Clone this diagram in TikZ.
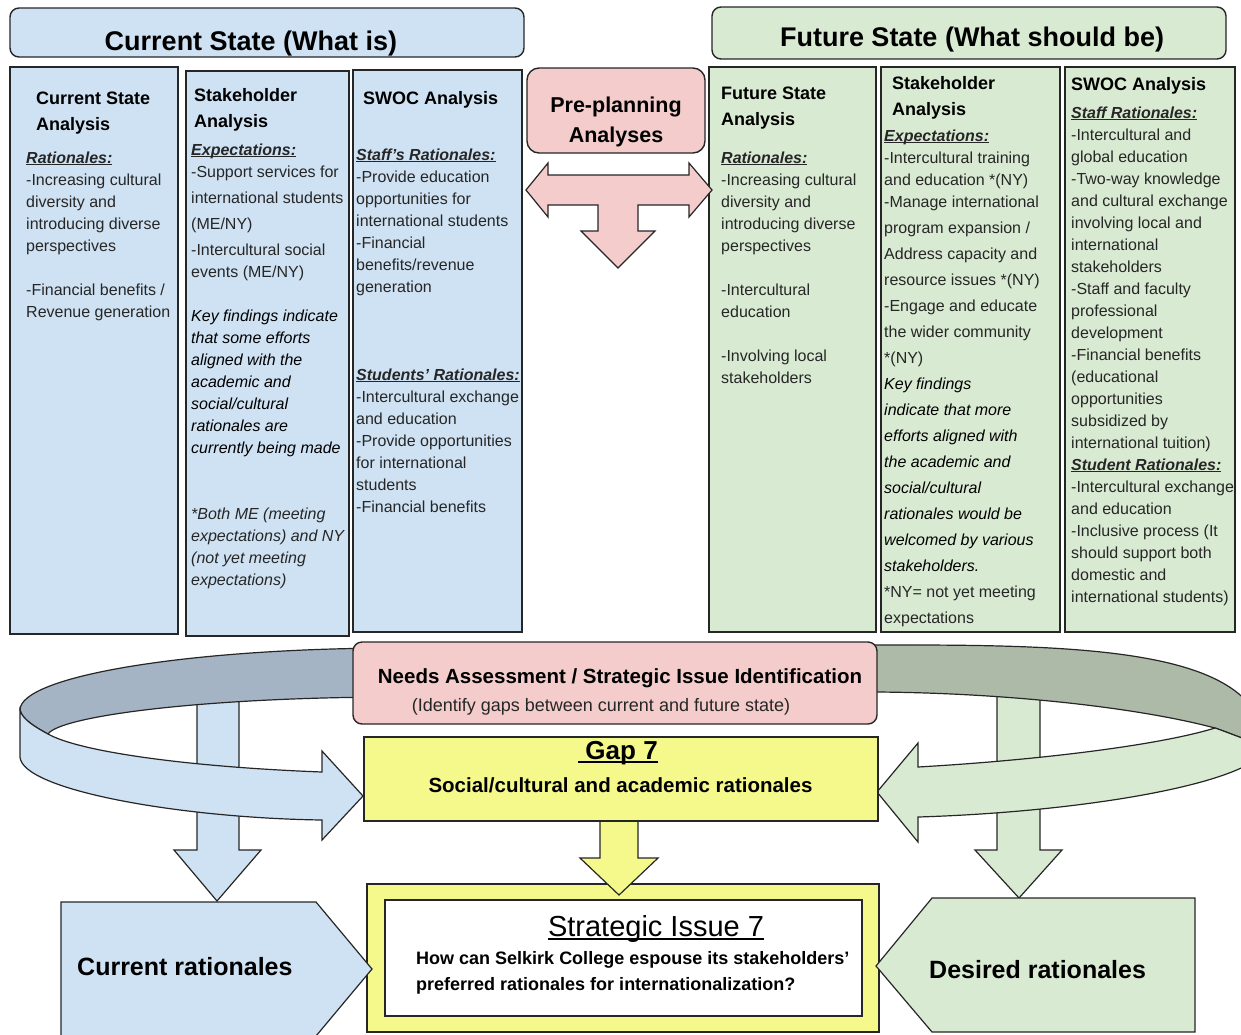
\documentclass[tikz,border=0pt]{standalone}
\usepackage{fontspec}
\setmainfont{Liberation Sans}
\usetikzlibrary{positioning, calc}

\definecolor{curblue}{HTML}{CFE2F3}
\definecolor{futgreen}{HTML}{D9EAD3}
\definecolor{prepink}{HTML}{F4CCCC}
\definecolor{gapyellow}{HTML}{F5F98B}
\definecolor{bandblue}{HTML}{A4B4C4}
\definecolor{bandgreen}{HTML}{AEBAA8}

\newcommand{\undl}[1]{\setbox0\hbox{#1}\rlap{\rule[-0.15em]{\wd0}{0.07em}}\box0}

\begin{document}
\begin{tikzpicture}[x=1pt, y=-1pt,
    panel/.style={draw=black!85, line width=1.4pt, inner sep=0pt},
    roundpanel/.style={panel, rounded corners=9pt},
    blockarrow/.style={draw=black!85, line width=1.2pt, line join=miter},
    bodytext/.style={anchor=base west, inner sep=0pt, text=black!85, font=\fontsize{16}{22}\selectfont},
    headtext/.style={anchor=base west, inner sep=0pt, font=\bfseries\fontsize{18}{26}\selectfont},
    bigtext/.style={anchor=base, inner sep=0pt, font=\bfseries\fontsize{27}{32}\selectfont}]

    \useasboundingbox (0,0) rectangle (1241,1034);

    % State headers
    \node[roundpanel, fill=curblue, minimum width=514pt, minimum height=49pt] (curhead) at (267,32.5) {};
    \node[bigtext] (curtitle) at (251,50) {Current State (What is)};
    \node[roundpanel, fill=futgreen, minimum width=514pt, minimum height=52pt] (futhead) at (969,33) {};
    \node[bigtext] (futtitle) at (972,46) {Future State (What should be)};

    % Current state columns
    \node[panel, fill=curblue, minimum width=168pt, minimum height=567pt] (curana) at (94,350.5) {};
    \node[panel, fill=curblue, minimum width=163pt, minimum height=565pt] (curstake) at (267.5,353.5) {};
    \node[panel, fill=curblue, minimum width=169pt, minimum height=562pt] (curswoc) at (437.5,351) {};

    \node[headtext] (curanahead) at (36,104) {\begin{tabular}[t]{@{}l@{}}Current State\\Analysis\end{tabular}};
    \node[bodytext] (curanatxt) at (26,163) {\begin{tabular}[t]{@{}l@{}}
    \textbf{\textit{\undl{Rationales:}}}\\
    -Increasing cultural\\
    diversity and\\
    introducing diverse\\
    perspectives\\
    \\
    -Financial benefits /\\
    Revenue generation
    \end{tabular}};

    \node[headtext] (curstakehead) at (194,101) {\begin{tabular}[t]{@{}l@{}}Stakeholder\\Analysis\end{tabular}};
    \node[bodytext] (curstaketxt) at (191,155) {\begin{tabular}[t]{@{}l@{}}
    \textbf{\textit{\undl{Expectations:}}}\\
    -Support services for\\[4pt]
    international students\\[4pt]
    (ME/NY)\\[4pt]
    -Intercultural social\\
    events (ME/NY)\\
    \\
    \textcolor{black}{\textit{Key findings indicate}}\\
    \textcolor{black}{\textit{that some efforts}}\\
    \textcolor{black}{\textit{aligned with the}}\\
    \textcolor{black}{\textit{academic and}}\\
    \textcolor{black}{\textit{social/cultural}}\\
    \textcolor{black}{\textit{rationales are}}\\
    \textcolor{black}{\textit{currently being made}}\\
    \\
    \\
    \textit{{*}Both ME (meeting}\\
    \textit{expectations) and NY}\\
    \textit{(not yet meeting}\\
    \textit{expectations)}
    \end{tabular}};

    \node[headtext] (curswochead) at (363,104) {SWOC Analysis};
    \node[bodytext] (curswoctxt) at (356,160) {\begin{tabular}[t]{@{}l@{}}
    \textbf{\textit{\undl{Staff's Rationales:}}}\\
    -Provide education\\
    opportunities for\\
    international students\\
    -Financial\\
    benefits/revenue\\
    generation\\
    \\
    \\
    \\
    \textbf{\textit{\undl{Students' Rationales:}}}\\
    -Intercultural exchange\\
    and education\\
    -Provide opportunities\\
    for international\\
    students\\
    -Financial benefits
    \end{tabular}};

    % Future state columns
    \node[panel, fill=futgreen, minimum width=167pt, minimum height=565pt] (futana) at (792.5,349.5) {};
    \node[panel, fill=futgreen, minimum width=179pt, minimum height=565pt] (futstake) at (970.5,349.5) {};
    \node[panel, fill=futgreen, minimum width=170pt, minimum height=565pt] (futswoc) at (1150,349.5) {};

    \node[headtext] (futanahead) at (721,99) {\begin{tabular}[t]{@{}l@{}}Future State\\Analysis\end{tabular}};
    \node[bodytext] (futanatxt) at (721,163) {\begin{tabular}[t]{@{}l@{}}
    \textbf{\textit{\undl{Rationales:}}}\\
    -Increasing cultural\\
    diversity and\\
    introducing diverse\\
    perspectives\\
    \\
    -Intercultural\\
    education\\
    \\
    -Involving local\\
    stakeholders
    \end{tabular}};

    \node[headtext] (futstakehead) at (892,89) {\begin{tabular}[t]{@{}l@{}}Stakeholder\\Analysis\end{tabular}};
    \node[bodytext] (futstaketxt) at (884,141) {\begin{tabular}[t]{@{}l@{}}
    \textbf{\textit{\undl{Expectations:}}}\\
    -Intercultural training\\
    and education *(NY)\\
    -Manage international
    \end{tabular}};
    \node[bodytext, font=\fontsize{16}{26}\selectfont] (futstakemore) at (884,233) {\begin{tabular}[t]{@{}l@{}}
    program expansion /\\
    Address capacity and\\
    resource issues *(NY)\\
    -Engage and educate\\
    the wider community\\
    {*}(NY)\\
    \textcolor{black}{\textit{Key findings}}\\
    \textcolor{black}{\textit{indicate that more}}\\
    \textcolor{black}{\textit{efforts aligned with}}\\
    \textcolor{black}{\textit{the academic and}}\\
    \textcolor{black}{\textit{social/cultural}}\\
    \textcolor{black}{\textit{rationales would be}}\\
    \textcolor{black}{\textit{welcomed by various}}\\
    \textcolor{black}{\textit{stakeholders.}}\\
    {*}NY= not yet meeting\\
    expectations
    \end{tabular}};

    \node[headtext] (futswochead) at (1071,90) {SWOC Analysis};
    \node[bodytext] (futswoctxt) at (1071,118) {\begin{tabular}[t]{@{}l@{}}
    \textbf{\textit{\undl{Staff Rationales:}}}\\
    -Intercultural and\\
    global education\\
    -Two-way knowledge\\
    and cultural exchange\\
    involving local and\\
    international\\
    stakeholders\\
    -Staff and faculty\\
    professional\\
    development\\
    -Financial benefits\\
    (educational\\
    opportunities\\
    subsidized by\\
    international tuition)\\
    \textbf{\textit{\undl{Student Rationales:}}}\\
    -Intercultural exchange\\
    and education\\
    -Inclusive process (It\\
    should support both\\
    domestic and\\
    international students)
    \end{tabular}};

    % Pre-planning box and its T arrow
    \node[roundpanel, rounded corners=12pt, fill=prepink, minimum width=178pt, minimum height=85pt] (prep) at (616,110.5) {};
    \node[anchor=base, inner sep=0pt, font=\bfseries\fontsize{21.5}{30}\selectfont] (preptxt) at (616,112) {\begin{tabular}[t]{@{}c@{}}Pre-planning\\Analyses\end{tabular}};
    \draw[blockarrow, fill=prepink] (526,190) -- (548,163) -- (548,175) -- (689,175) -- (689,163) -- (712,190) -- (689,217) -- (689,205) -- (638,205) -- (638,231) -- (655,231) -- (618,268) -- (581,231) -- (598,231) -- (598,205) -- (548,205) -- (548,217) -- cycle;

    % Down arrows behind the loops
    \draw[blockarrow, fill=curblue] (197,690) -- (197,850) -- (174,850) -- (217,901) -- (261,850) -- (239,850) -- (239,690) -- cycle;
    \draw[blockarrow, fill=futgreen] (997,690) -- (997,850) -- (975,850) -- (1019,898) -- (1062,850) -- (1040,850) -- (1040,690) -- cycle;

    % Back of the two loops
    \draw[blockarrow, fill=bandblue] (440,648) -- (400,648) .. controls (190,648) and (20,676) .. (20,710) .. controls (22,719) and (35,727) .. (48,734) .. controls (60,716) and (204,697) .. (400,697) -- (440,697) -- cycle;
    \draw[blockarrow, fill=bandgreen] (800,645) -- (840,645) .. controls (1050,645) and (1262,640) .. (1264,745) .. controls (1245,740) and (1230,733) .. (1215,728) .. controls (1140,708) and (1010,693) .. (877,692) -- (800,692) -- cycle;

    % Front of the two loops
    \draw[blockarrow, fill=curblue] (20,710) -- (20,757) .. controls (22,790) and (180,818) .. (322,820) -- (322,840) -- (363,796) -- (322,751) -- (322,772) .. controls (190,767) and (80,752) .. (48,734) .. controls (35,727) and (22,719) .. (20,710) -- cycle;
    \draw[blockarrow, fill=futgreen] (1264,745) -- (1264,752) .. controls (1240,785) and (1080,812) .. (918,817) -- (918,842) -- (877,792) -- (918,743) -- (918,767) .. controls (1040,760) and (1160,745) .. (1215,728) .. controls (1230,733) and (1245,740) .. (1264,745) -- cycle;

    % Needs assessment
    \node[roundpanel, fill=prepink, minimum width=524pt, minimum height=82pt] (needs) at (615,683) {};
    \node[anchor=base, inner sep=0pt, font=\bfseries\fontsize{20.5}{24}\selectfont] (needstitle) at (620,683) {Needs Assessment / Strategic Issue Identification};
    \node[anchor=base, inner sep=0pt, text=black!85, font=\fontsize{18}{22}\selectfont] (needsnote) at (601,711) {(Identify gaps between current and future state)};

    % Strategic issue, gap and the arrow between them
    \node[panel, fill=gapyellow, minimum width=512pt, minimum height=148pt] (issue) at (623,958) {};
    \draw[blockarrow, fill=gapyellow] (600,815) -- (600,858) -- (580,858) -- (619,895) -- (658,858) -- (638,858) -- (638,815) -- cycle;
    \node[panel, fill=gapyellow, minimum width=514pt, minimum height=84pt] (gap) at (621,779) {};
    \node[anchor=base, inner sep=0pt, font=\bfseries\fontsize{26}{30}\selectfont] (gaptitle) at (618,759) {\undl{\ Gap 7}};
    \node[anchor=base, inner sep=0pt, font=\bfseries\fontsize{20.5}{24}\selectfont] (gaptxt) at (620.5,792) {Social/cultural and academic rationales};

    \node[panel, fill=white, minimum width=477pt, minimum height=116pt] (issuein) at (623.5,958) {};
    \node[anchor=base, inner sep=0pt, font=\fontsize{29}{34}\selectfont] (issuetitle) at (656,936) {\undl{Strategic Issue 7}};
    \node[anchor=base west, inner sep=0pt, font=\bfseries\fontsize{18}{26}\selectfont] (issuetxt) at (416,964) {\begin{tabular}[t]{@{}l@{}}How can Selkirk College espouse its stakeholders'\\preferred rationales for internationalization?\end{tabular}};

    % Rationale pentagons
    \draw[blockarrow, fill=curblue] (61,902) -- (316,902) -- (372,969) -- (316,1036) -- (61,1036) -- cycle;
    \node[anchor=base west, inner sep=0pt, font=\bfseries\fontsize{25}{30}\selectfont] (currat) at (77,975) {Current rationales};
    \draw[blockarrow, fill=futgreen] (876,966) -- (932,898) -- (1195,898) -- (1195,1032) -- (932,1032) -- cycle;
    \node[anchor=base west, inner sep=0pt, font=\bfseries\fontsize{25}{30}\selectfont] (desrat) at (929,978) {Desired rationales};
\end{tikzpicture}
\end{document}
